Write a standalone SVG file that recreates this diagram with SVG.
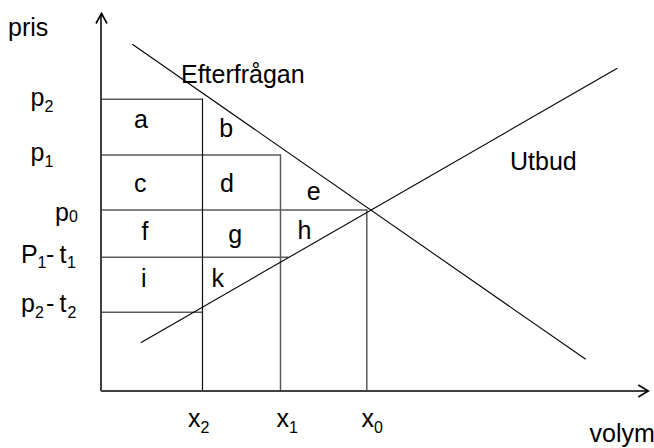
<svg xmlns="http://www.w3.org/2000/svg" width="654" height="448" viewBox="0 0 654 448">
<defs>
<style>
text{font-family:"Liberation Sans",Arial,sans-serif;font-size:25px;fill:#000}
.sub{font-size:16px}
.grid{stroke:#5a5a5a;stroke-width:1.5;fill:none}
.vx2{stroke:#111;stroke-width:1.2;fill:none}
.axis{stroke:#404040;stroke-width:2;fill:none}
.curve{stroke:#000;stroke-width:1.1;fill:none}
.head{stroke:#000;stroke-width:1.6;fill:none}
</style>
</defs>
<rect width="654" height="448" fill="#fff"/>
<g id="grid">
<line class="grid" x1="101" y1="99.3" x2="202.5" y2="99.3"/>
<line class="grid" x1="101" y1="155" x2="280.5" y2="155"/>
<line class="grid" x1="101" y1="210" x2="367" y2="210"/>
<line class="grid" x1="101" y1="257.3" x2="288.5" y2="257.3"/>
<line class="grid" x1="101" y1="312.3" x2="202.5" y2="312.3"/>
<line class="vx2" x1="202.5" y1="98.5" x2="202.5" y2="391"/>
<line class="grid" x1="280.5" y1="154.3" x2="280.5" y2="391"/>
<line class="grid" x1="366.8" y1="209.3" x2="366.8" y2="391"/>
</g>
<g id="connectors">
<line class="axis" x1="101" y1="391" x2="101" y2="14"/>
<polyline class="head" points="96,23.5 101.5,13.5 107,23.5"/>
<line class="axis" x1="101" y1="391" x2="647" y2="391"/>
<polyline class="head" points="638.3,385 648.3,391 638.3,397"/>
<line id="efterfragan-curve" class="curve" x1="132.3" y1="44.3" x2="585.7" y2="359.3"/>
<line id="utbud-curve" class="curve" x1="140.7" y1="342.7" x2="617.3" y2="68.3"/>
</g>
<g id="axis-labels">
<text x="8" y="35.5">pris</text>
<text x="589.5" y="442">volym</text>
<text x="181" y="83">Efterfrågan</text>
<text x="510" y="170">Utbud</text>
</g>
<g id="price-labels">
<text x="30.5" y="105.5">p<tspan class="sub" dy="6">2</tspan></text>
<text x="30.5" y="161">p<tspan class="sub" dy="6">1</tspan></text>
<text x="55" y="221">p<tspan class="sub" dy="1">0</tspan></text>
<text x="21" y="263">P<tspan class="sub" x="37.5" y="268.3">1</tspan> <tspan x="46" y="263">-</tspan> <tspan x="59.5" y="263">t</tspan><tspan class="sub" x="67" y="268.3">1</tspan></text>
<text x="21" y="311.5">p<tspan class="sub" x="35" y="318.3">2</tspan> <tspan x="46" y="311.5">-</tspan> <tspan x="59.5" y="311.5">t</tspan><tspan class="sub" x="67.5" y="318.3">2</tspan></text>
</g>
<g id="quantity-labels">
<text x="188" y="426.5">x<tspan class="sub" dy="6.5">2</tspan></text>
<text x="276.5" y="426.5">x<tspan class="sub" dy="6.5">1</tspan></text>
<text x="361.5" y="426.5">x<tspan class="sub" dy="6.5">0</tspan></text>
</g>
<g id="areas">
<text id="area-a" x="134" y="128">a</text>
<text id="area-b" x="219.3" y="136.7">b</text>
<text id="area-c" x="134" y="191.7">c</text>
<text id="area-d" x="220" y="191.7">d</text>
<text id="area-e" x="306.7" y="200">e</text>
<text id="area-f" x="141.5" y="240">f</text>
<text id="area-g" x="228.3" y="242.7">g</text>
<text id="area-h" x="297.5" y="239">h</text>
<text id="area-i" x="141" y="286.7">i</text>
<text id="area-k" x="211.5" y="286.7">k</text>
</g>
</svg>
